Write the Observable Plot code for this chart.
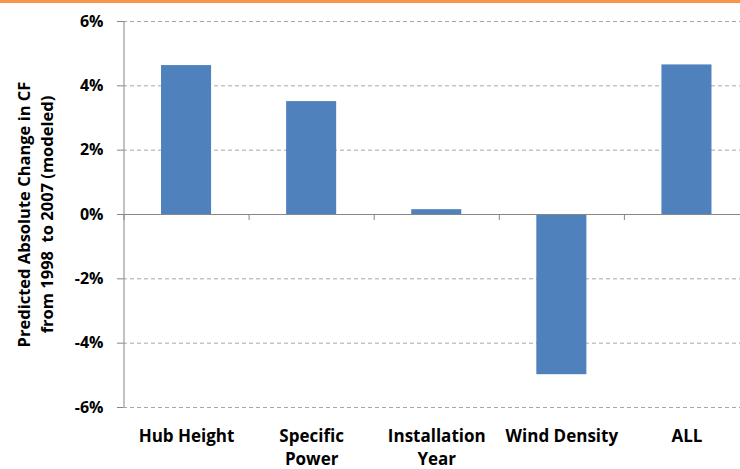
<!DOCTYPE html>
<html>
<head>
<meta charset="utf-8">
<script src="https://cdn.jsdelivr.net/npm/d3@7"></script>
<script src="https://cdn.jsdelivr.net/npm/@observablehq/plot@0.6"></script>
<style>
  body { margin: 0; background: white; }
  #wrap { position: relative; width: 740px; height: 469px; }
  #topline { position: absolute; left: 0; top: 0; width: 740px; height: 3px; background: #F79646; }
</style>
</head>
<body>
<div id="wrap"><div id="topline"></div></div>
<script>
const categories = ["Hub Height", "Specific\nPower", "Installation\nYear", "Wind Density", "ALL"];
const values = [4.63, 3.51, 0.15, -4.98, 4.65];
const yTicks = [-6, -4, -2, 0, 2, 4, 6];
const yLabel = "Predicted Absolute Change in CF\nfrom 1998  to 2007 (modeled)";

const data = categories.map((c, i) => ({category: c, index: i, value: values[i]}));

const chart = Plot.plot({
  width: 740,
  height: 469,
  marginTop: 21,
  marginBottom: 62,
  marginLeft: 123,
  marginRight: 0,
  style: {fontFamily: "'Open Sans', sans-serif", fontSize: "16px", fontWeight: "bold", color: "black", background: "white"},
  x: {domain: [0, categories.length], range: [123.5, 749], axis: null},
  y: {domain: [-6, 6], axis: null},
  marks: [
    Plot.ruleY(yTicks.filter(t => t !== 0), {stroke: "#a6a6a6", strokeDasharray: "4,3"}),
    Plot.rectY(data, {x1: d => d.index + 0.3, x2: d => d.index + 0.7, y: "value", fill: "#4F81BD"}),
    Plot.ruleY([0], {stroke: "#868686"}),
    Plot.ruleX(d3.range(categories.length + 1), {y1: 0, y2: 0, insetBottom: -6, stroke: "#868686"}),
    Plot.ruleX([0], {y1: -6, y2: 6, stroke: "#868686"}),
    Plot.axisY({ticks: yTicks, tickFormat: d => d + "%", tickSize: 6, tickPadding: 14, stroke: "#868686", fill: "black", label: null, fontSize: 16, fontWeight: "bold"}),
    Plot.text(data, {x: d => d.index + 0.5, text: "category", frameAnchor: "bottom", lineAnchor: "top", dy: 18, lineHeight: 1.35, fontSize: 17, fontWeight: "bold", fill: "black"}),
    Plot.text([yLabel], {frameAnchor: "left", rotate: -90, dx: -89.5, lineHeight: 1.4, textAnchor: "middle", fontSize: 16.5, fontWeight: "bold", fill: "black"})
  ]
});
document.getElementById("wrap").appendChild(chart);
</script>
</body>
</html>
